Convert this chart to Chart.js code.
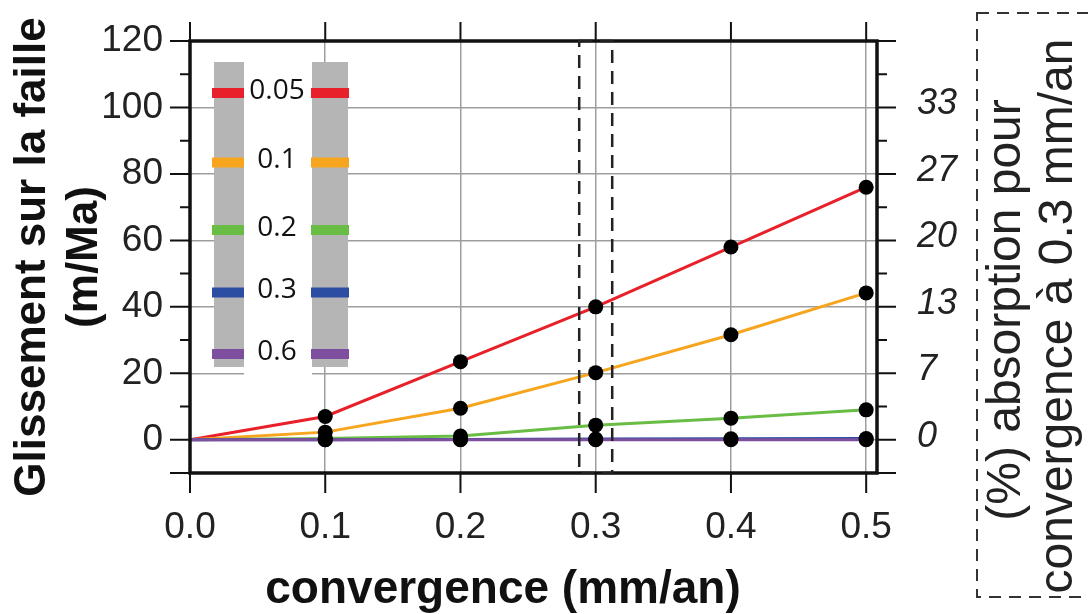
<!DOCTYPE html>
<html>
<head>
<meta charset="utf-8">
<script src="https://cdn.jsdelivr.net/npm/chart.js@4.4.0/dist/chart.umd.min.js"></script>
<style>
html,body{margin:0;padding:0;background:#fff;overflow:hidden;}
canvas{display:block;}
</style>
</head>
<body>
<canvas id="c" width="1088" height="614"></canvas>
<script>
// ---- data ----
const convergence = [0, 0.1, 0.2, 0.3, 0.4, 0.5];           // mm/an
const seriesLabels = ['0.05', '0.1', '0.2', '0.3', '0.6'];
const slip005 = [0, 7.0, 23.5, 40.0, 58.0, 76.0];            // m/Ma
const slip01  = [0, 2.3, 9.5, 20.2, 31.6, 44.2];
const slip02  = [0, 0.4, 1.1, 4.4, 6.5, 9.0];
const slip03  = [0, 0.0, 0.1, 0.2, 0.3, 0.4];
const slip06  = [0, 0, 0, 0, 0, 0];
const seriesColors = ['#e8202a', '#f7a51e', '#69bd45', '#2b4ea2', '#7f4f9f'];

const xTickValues = [0, 0.1, 0.2, 0.3, 0.4, 0.5];
const xTickLabels = ['0.0', '0.1', '0.2', '0.3', '0.4', '0.5'];
const yTickValues = [-10, 0, 10, 20, 30, 40, 50, 60, 70, 80, 90, 100, 110, 120];
const yTickLabels = ['', '0', '', '20', '', '40', '', '60', '', '80', '', '100', '', '120'];
const yRightTickLabels = ['', '0', '', '7', '', '13', '', '20', '', '27', '', '33', '', ''];
const highlightX = 0.3;

const allSeries = [slip005, slip01, slip02, slip03, slip06];
const FONT = '"Liberation Sans", Arial, Helvetica, sans-serif';
Chart.defaults.font.family = FONT;
Chart.defaults.color = '#222';

const lineSets = allSeries.map((s, i) => ({
  label: seriesLabels[i],
  data: s.map((v, k) => ({x: convergence[k], y: v})),
  borderColor: seriesColors[i],
  backgroundColor: seriesColors[i],
  borderWidth: 3,
  pointRadius: 0,
  tension: 0,
  order: 5 - i
}));
const dotSets = allSeries.map((s, i) => ({
  label: seriesLabels[i] + ' pts',
  data: s.map((v, k) => ({x: convergence[k], y: v})),
  showLine: false,
  pointRadius: c => c.dataIndex === 0 ? 0 : 7.5,
  pointBackgroundColor: '#000',
  pointBorderColor: '#000',
  pointBorderWidth: 0,
  order: 0
}));

const noPad = s => { s.paddingTop = 0; s.paddingBottom = 0; s.paddingLeft = 0; s.paddingRight = 0; };

const decoPlugin = {
  id: 'deco',
  beforeDatasetsDraw(chart) {
    const ctx = chart.ctx;
    ctx.save();
    // strip legend
    ctx.fillStyle = '#fff';
    ctx.fillRect(244, 58, 68, 322);
    ctx.fillStyle = '#b5b5b5';
    ctx.fillRect(214, 62, 30, 305);
    ctx.fillRect(312, 62, 36, 305);
    const ys = [93, 162.5, 230, 292.5, 354];
    lineSets.forEach((ds, i) => {
      ctx.fillStyle = ds.borderColor;
      ctx.fillRect(212, ys[i] - 5, 32, 10);
      ctx.fillRect(311, ys[i] - 5, 38, 10);
      ctx.fillStyle = '#111';
      ctx.font = '28px "Open Sans", "Noto Sans", sans-serif';
      ctx.textAlign = 'center';
      ctx.textBaseline = 'middle';
      ctx.fillText(ds.label, 277, ys[i] - 2);
    });
    ctx.restore();
  },
  afterDraw(chart) {
    const {ctx, chartArea: a, scales: {x, y}} = chart;
    ctx.save();
    ctx.strokeStyle = '#111';
    ctx.lineWidth = 2;
    ctx.beginPath();
    xTickValues.forEach(v => {
      const px = x.getPixelForValue(v);
      ctx.moveTo(px, a.bottom); ctx.lineTo(px, a.bottom + 20);
      ctx.moveTo(px, a.top); ctx.lineTo(px, a.top - 19);
    });
    yTickValues.forEach(v => {
      const py = y.getPixelForValue(v);
      const major = (v % 20 === 0) || v === yTickValues[0];
      ctx.moveTo(a.left, py); ctx.lineTo(a.left - (major ? 20 : 10), py);
      ctx.moveTo(a.right, py); ctx.lineTo(a.right + (major ? 19 : 10), py);
    });
    ctx.stroke();
    // frame
    ctx.lineWidth = 3.5;
    ctx.strokeRect(a.left, a.top, a.width, a.height);
    // highlight dashed box at 0.3
    const x1 = x.getPixelForValue(highlightX - 0.0122);
    const x2 = x.getPixelForValue(highlightX + 0.0122);
    ctx.setLineDash([13, 8]);
    ctx.lineWidth = 2.5;
    ctx.strokeStyle = '#222';
    ctx.strokeRect(x1, a.top, x2 - x1, a.height);
    // right dashed box
    ctx.setLineDash([12, 8]);
    ctx.lineWidth = 2;
    ctx.strokeStyle = '#333';
    ctx.strokeRect(977, 13, 140, 584);
    ctx.setLineDash([]);
    // right box text
    ctx.fillStyle = '#222';
    ctx.font = '48px ' + FONT;
    ctx.textAlign = 'center';
    ctx.textBaseline = 'alphabetic';
    [['(%) absorption pour', 1020, 310], ['convergence à 0.3 mm/an', 1072, 316]].forEach(([t, bx, cy]) => {
      ctx.save();
      ctx.translate(bx, cy);
      ctx.rotate(-Math.PI / 2);
      ctx.fillText(t, 0, 0);
      ctx.restore();
    });
    // x axis title
    ctx.fillStyle = '#111';
    ctx.font = 'bold 46px ' + FONT;
    ctx.fillText('convergence (mm/an)', 503, 603);
    ctx.restore();
  }
};

new Chart(document.getElementById('c'), {
  type: 'line',
  data: {datasets: [...lineSets, ...dotSets]},
  options: {
    responsive: false,
    animation: false,
    devicePixelRatio: 1,
    layout: {padding: {top: 41, left: 0, right: 0, bottom: 0}},
    plugins: {legend: {display: false}, tooltip: {enabled: false}},
    scales: {
      x: {
        type: 'linear', position: 'bottom', min: 0, max: 0.508,
        afterBuildTicks: s => { s.ticks = xTickValues.map(v => ({value: v})); },
        afterFit: s => { s.height = 141; noPad(s); },
        ticks: {callback: (v, i) => xTickLabels[i], padding: 33, autoSkip: false, maxRotation: 0,
                font: {size: 37}, color: '#222'},
        grid: {drawTicks: false, lineWidth: 1.5,
               color: c => (c.tick && c.tick.value > 0) ? '#9d9d9d' : 'rgba(0,0,0,0)'},
        border: {display: false},
        title: {display: false}
      },
      y: {
        type: 'linear', position: 'left', min: -10, max: 120,
        afterBuildTicks: s => { s.ticks = yTickValues.map(v => ({value: v})); },
        afterFit: s => { s.width = 190; noPad(s); },
        ticks: {callback: (v, i) => yTickLabels[i], padding: 27, autoSkip: false,
                font: {size: 37}, color: '#222'},
        grid: {drawTicks: false, lineWidth: 1.5,
               color: c => (c.tick && c.tick.value >= 0 && c.tick.value <= 100 && c.tick.value % 20 === 0) ? '#9d9d9d' : 'rgba(0,0,0,0)'},
        border: {display: false},
        title: {display: true, text: ['Glissement sur la faille', '(m/Ma)'],
                font: {size: 44, weight: 'bold', lineHeight: 1.2}, color: '#111',
                padding: {top: 6, bottom: 0}}
      },
      y2: {
        type: 'linear', position: 'right', min: -10, max: 120,
        afterBuildTicks: s => { s.ticks = yTickValues.map(v => ({value: v})); },
        afterFit: s => { s.width = 211; noPad(s); },
        ticks: {callback: (v, i) => yRightTickLabels[i], padding: 40, autoSkip: false,
                labelOffset: -3, font: {size: 36, style: 'italic'}, color: '#222'},
        grid: {display: false, drawTicks: false},
        border: {display: false}
      }
    }
  },
  plugins: [decoPlugin]
});
</script>
</body>
</html>
